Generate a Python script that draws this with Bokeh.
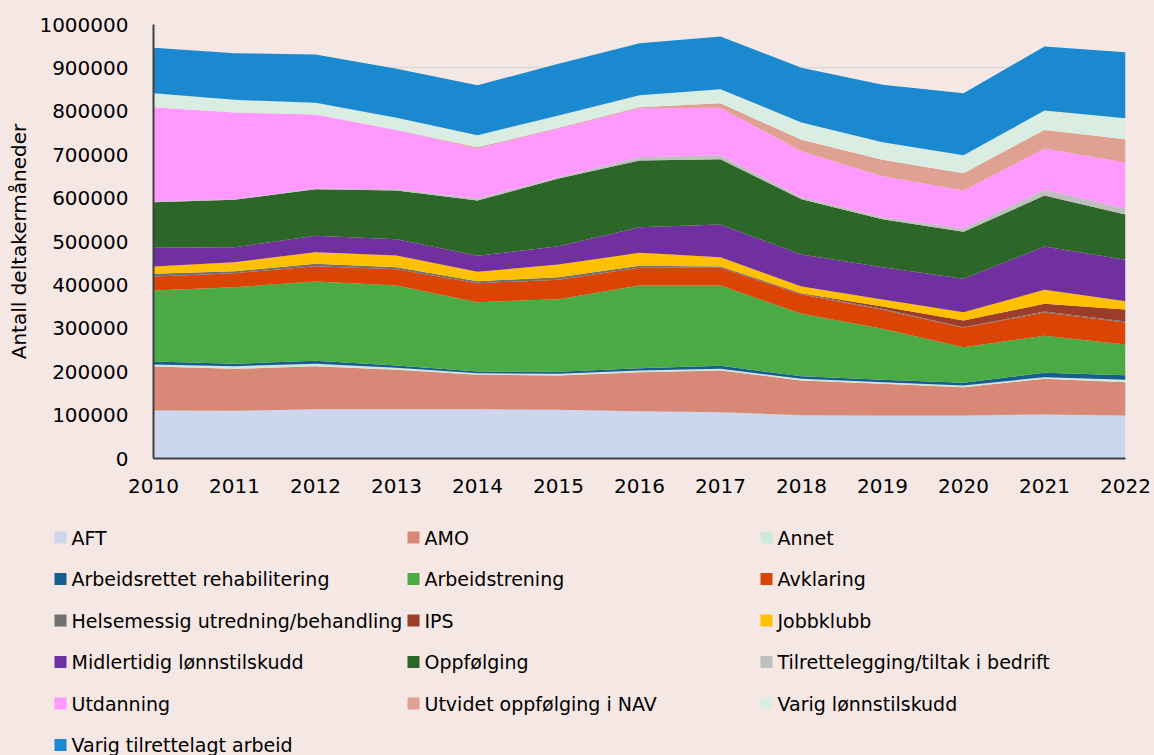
from bokeh.plotting import figure
from bokeh.models import (ColumnDataSource, SingleIntervalTicker,
                          NumeralTickFormatter, Range1d)
from bokeh.layouts import column
from bokeh.core.properties import value
from bokeh.embed import file_html
from bokeh.resources import INLINE

years = list(range(2010, 2023))

names = ["AFT", "AMO", "Annet", "Arbeidsrettet rehabilitering", "Arbeidstrening",
         "Avklaring", "Helsemessig utredning/behandling", "IPS", "Jobbklubb",
         "Midlertidig lønnstilskudd", "Oppfølging", "Tilrettelegging/tiltak i bedrift",
         "Utdanning", "Utvidet oppfølging i NAV", "Varig lønnstilskudd",
         "Varig tilrettelagt arbeid"]

aft = [110600, 109800, 113700, 113700, 113700, 112100, 109100, 106800, 99800, 99100, 99100, 101400, 99100]
amo = [101400, 96800, 99000, 90600, 79100, 79100, 89800, 96000, 79900, 72900, 65300, 82200, 76800]
annet = [4600, 6100, 5400, 4600, 3800, 3900, 3900, 3800, 3900, 3900, 3800, 3800, 5300]
arb_rehab = [6900, 5400, 6900, 5400, 3800, 4600, 5300, 6900, 6100, 5300, 6100, 10000, 10800]
arbeidstrening = [163500, 176700, 182800, 184300, 159800, 167400, 190500, 185100, 143600, 117600, 82200, 85200, 70700]
avklaring = [32300, 32200, 35300, 37600, 43800, 44500, 40700, 40700, 44600, 43700, 44600, 53800, 50600]
helsemessig = [6200, 4600, 5400, 4600, 4600, 6200, 4600, 3100, 1500, 2300, 1500, 2300, 2300]
ips = [0, 0, 0, 0, 0, 0, 0, 0, 1500, 5400, 15400, 17700, 27700]
jobbklubb = [16900, 20800, 26900, 26900, 21500, 29200, 30000, 21500, 15400, 16100, 19200, 32200, 19200]
midlertidig = [43000, 34500, 37600, 37600, 36800, 42200, 59100, 75200, 73700, 74500, 76800, 99800, 95200]
oppfolging = [105200, 109100, 107500, 112200, 127500, 155900, 153600, 150600, 127500, 110600, 108200, 117600, 104500]
tilrettelegging = [1400, 1500, 1500, 3000, 4600, 3100, 7500, 9200, 4600, 4600, 7700, 13000, 13000]
utdanning = [217500, 199700, 170600, 136700, 115200, 112100, 113100, 109000, 106000, 94500, 87600, 95200, 106800]
utvidet = [0, 0, 0, 0, 3100, 1600, 2300, 10800, 26100, 37600, 39900, 43000, 53700]
varig_lts = [32200, 29200, 26900, 27700, 27700, 28400, 27600, 32200, 39900, 40700, 41500, 44600, 48400]
vta = [104500, 107500, 111300, 112900, 115200, 119000, 119800, 121400, 126000, 132100, 142800, 147400, 152100]

series = [aft, amo, annet, arb_rehab, arbeidstrening, avklaring, helsemessig, ips,
          jobbklubb, midlertidig, oppfolging, tilrettelegging, utdanning, utvidet,
          varig_lts, vta]

colors = ["#CCD7EE", "#D88877", "#CDE8DC", "#165E8F", "#4AAA44", "#DB4405",
          "#707070", "#9B3D2A", "#FFC000", "#7030A0", "#2C6629", "#BFBFBF",
          "#FF99FF", "#DFA191", "#D9EDE2", "#1A89D0"]

keys = ["s%d" % i for i in range(len(names))]
data = {"year": years}
for k, s in zip(keys, series):
    data[k] = s
source = ColumnDataSource(data)

BG = "#F5E7E4"
FONT = "DejaVu Sans"
W = 1154
H_TOP = 500
H_LEG = 255

p = figure(width=W, height=H_TOP,
           min_border_left=153, min_border_right=29, min_border_top=24,
           min_border_bottom=H_TOP - 24 - 434, output_backend="svg", toolbar_location=None,
           x_range=Range1d(2010, 2022), y_range=Range1d(0, 1000000),
           background_fill_color=BG, border_fill_color=BG, outline_line_color=None)
try:
    p.frame_align = False
except Exception:
    pass

p.varea_stack(stackers=keys, x="year", color=colors, source=source)

p.xaxis.ticker = SingleIntervalTicker(interval=1)
p.yaxis.ticker = SingleIntervalTicker(interval=100000)
p.yaxis.formatter = NumeralTickFormatter(format="0")
for ax in (p.xaxis[0], p.yaxis[0]):
    ax.major_tick_line_color = None
    ax.minor_tick_line_color = None
    ax.axis_line_color = "#404040"
    ax.axis_line_width = 2
    ax.major_label_text_font = FONT
    ax.major_label_text_font_size = "20px"
    ax.major_label_text_color = "#000000"
p.yaxis.major_label_standoff = 19
p.xaxis.major_label_standoff = 14
p.yaxis.axis_label = "Antall deltakermåneder"
p.yaxis.axis_label_text_font = FONT
p.yaxis.axis_label_text_font_size = "20px"
p.yaxis.axis_label_text_font_style = "normal"
p.yaxis.axis_label_text_color = "#000000"
p.yaxis.axis_label_standoff = 5

p.xgrid.grid_line_color = None
p.ygrid.grid_line_color = "#D9D9D9"
p.ygrid.grid_line_width = 1.5
p.ygrid.level = "underlay"

# legend panel (3 columns, row-major), drawn in pixel units
n_cols = 3
col_x0, col_pitch = 54, 353
row_y0, row_pitch = 37, 41.5
gx = [col_x0 + col_pitch * (i % n_cols) + 6 for i in range(len(names))]
gy = [row_y0 + row_pitch * (i // n_cols) for i in range(len(names))]
tx = [x + 11 for x in gx]
leg_src = ColumnDataSource(dict(gx=gx, gy=gy, tx=tx, name=names, color=colors))

p2 = figure(width=W, height=H_LEG, min_border=0, output_backend="svg",
            toolbar_location=None, x_range=Range1d(0, W), y_range=Range1d(H_LEG, 0),
            x_axis_type=None, y_axis_type=None,
            background_fill_color=BG, border_fill_color=BG, outline_line_color=None)
try:
    p2.frame_align = False
except Exception:
    pass
p2.xgrid.grid_line_color = None
p2.ygrid.grid_line_color = None
p2.rect(x="gx", y="gy", width=12, height=12, fill_color="color", line_color=None,
        source=leg_src)
p2.text(x="tx", y="gy", text="name", source=leg_src, text_baseline="middle",
        text_align="left", text_font=value(FONT), text_font_size="19px",
        text_color="#000000")

layout = column(p, p2, spacing=0, styles={"background-color": BG})
open("out.html", "w").write(file_html(layout, INLINE))
